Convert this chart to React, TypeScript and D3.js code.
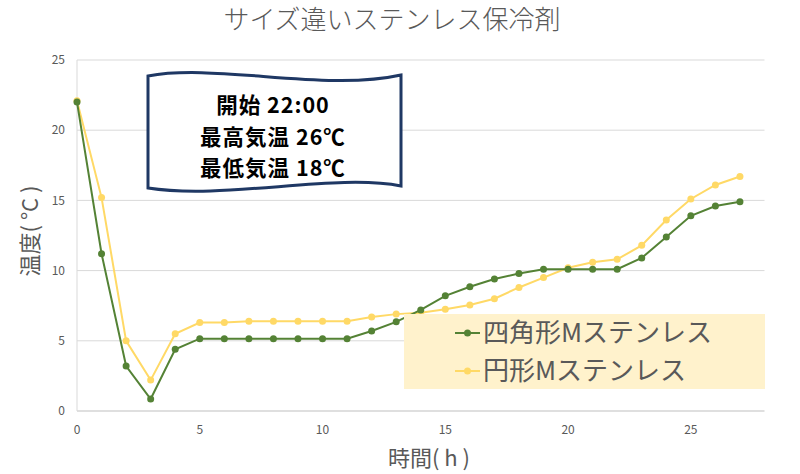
import { useEffect, useRef } from 'react'
import * as d3 from 'd3'

const hours = d3.range(0, 28)
const squareM = [22, 11.2, 3.2, 0.85, 4.4, 5.15, 5.15, 5.15, 5.15, 5.15, 5.15, 5.15, 5.7, 6.35, 7.2, 8.2, 8.85, 9.4, 9.8, 10.1, 10.1, 10.1, 10.1, 10.9, 12.4, 13.9, 14.6, 14.9]
const roundM = [22.1, 15.2, 5.0, 2.2, 5.5, 6.3, 6.3, 6.4, 6.4, 6.4, 6.4, 6.4, 6.7, 6.9, 7.0, 7.25, 7.55, 8.0, 8.8, 9.5, 10.2, 10.6, 10.8, 11.8, 13.6, 15.1, 16.1, 16.7]
const seriesNames = ['四角形Mステンレス', '円形Mステンレス']
const seriesColors = ['#548235', '#ffd966']
const xTicks = [0, 5, 10, 15, 20, 25]
const yTicks = [0, 5, 10, 15, 20, 25]
const noteLines = ['開始 22:00', '最高気温 26℃', '最低気温 18℃']

const width = 800
const height = 474
const font = '"Noto Sans CJK JP", "Noto Sans", sans-serif'
const gray = '#595959'

export default function App() {
  const svgRef = useRef<SVGSVGElement>(null)

  useEffect(() => {
    if (!svgRef.current) return
    const svg = d3.select(svgRef.current)
    svg.selectAll('*').remove()

    const x = d3.scaleLinear().domain([0, 28]).range([77, 764.5])
    const y = d3.scaleLinear().domain([0, 25]).range([411, 60])

    svg.append('rect').attr('width', width).attr('height', height).attr('fill', '#fff')

    // gridlines
    svg
      .append('g')
      .selectAll('line')
      .data(yTicks.filter((t) => t > 0))
      .enter()
      .append('line')
      .attr('x1', x(0))
      .attr('x2', x(28))
      .attr('y1', (d) => y(d))
      .attr('y2', (d) => y(d))
      .attr('stroke', '#d9d9d9')
      .attr('stroke-width', 1)

    // axis lines
    svg
      .append('line')
      .attr('x1', x(0))
      .attr('x2', x(28))
      .attr('y1', y(0))
      .attr('y2', y(0))
      .attr('stroke', '#bfbfbf')
    svg
      .append('line')
      .attr('x1', x(0))
      .attr('x2', x(0))
      .attr('y1', y(0))
      .attr('y2', y(25))
      .attr('stroke', '#d9d9d9')

    // tick labels
    svg
      .append('g')
      .selectAll('text')
      .data(yTicks)
      .enter()
      .append('text')
      .attr('x', 65)
      .attr('y', (d) => y(d))
      .attr('dy', '0.35em')
      .attr('text-anchor', 'end')
      .attr('font-family', font)
      .attr('font-size', 12)
      .attr('fill', gray)
      .text((d) => d)

    svg
      .append('g')
      .selectAll('text')
      .data(xTicks)
      .enter()
      .append('text')
      .attr('x', (d) => x(d))
      .attr('y', 430)
      .attr('dy', '0.35em')
      .attr('text-anchor', 'middle')
      .attr('font-family', font)
      .attr('font-size', 12)
      .attr('fill', gray)
      .text((d) => d)

    // title & axis titles
    svg
      .append('text')
      .attr('x', 392)
      .attr('y', 29)
      .attr('text-anchor', 'middle')
      .attr('font-family', font)
      .attr('font-size', 26)
      .attr('font-weight', 300)
      .attr('fill', gray)
      .text('サイズ違いステンレス保冷剤')

    svg
      .append('text')
      .attr('x', 429)
      .attr('y', 466)
      .attr('text-anchor', 'middle')
      .attr('font-family', font)
      .attr('font-size', 22)
      .attr('fill', gray)
      .text('時間( h )')

    svg
      .append('text')
      .attr('transform', `translate(38,231) rotate(-90)`)
      .attr('text-anchor', 'middle')
      .attr('font-family', font)
      .attr('font-size', 22)
      .attr('fill', gray)
      .text('温度( °C )')

    // series (round drawn first, square on top)
    const allSeries = [squareM, roundM]
    const line = d3
      .line<number>()
      .x((_, i) => x(hours[i]))
      .y((d) => y(d))

    allSeries
      .slice()
      .reverse()
      .forEach((values, ri) => {
        const si = allSeries.length - 1 - ri
        const g = svg.append('g')
        g.append('path')
          .datum(values)
          .attr('d', line)
          .attr('fill', 'none')
          .attr('stroke', seriesColors[si])
          .attr('stroke-width', 2)
        g.selectAll('circle')
          .data(values)
          .enter()
          .append('circle')
          .attr('cx', (_, i) => x(hours[i]))
          .attr('cy', (d) => y(d))
          .attr('r', 3.5)
          .attr('fill', seriesColors[si])
      })

    // annotation flag
    const note = svg.append('g')
    note
      .append('path')
      .attr('d', 'M148,76 C215,63 325,92 401,75 L401,186 C335,173 225,200 148,188 Z')
      .attr('fill', '#fff')
      .attr('stroke', '#1f3864')
      .attr('stroke-width', 3)
    note
      .selectAll('text')
      .data(noteLines)
      .enter()
      .append('text')
      .attr('x', 273)
      .attr('y', (_, i) => 113 + i * 31.5)
      .attr('text-anchor', 'middle')
      .attr('font-family', font)
      .attr('font-size', 21.5)
      .attr('letter-spacing', 1)
      .attr('font-weight', 700)
      .attr('fill', '#000')
      .text((d) => d)

    // legend
    const legend = svg.append('g')
    legend
      .append('rect')
      .attr('x', 404)
      .attr('y', 314)
      .attr('width', 361)
      .attr('height', 75)
      .attr('fill', '#fff2cc')
    const items = legend
      .selectAll('.item')
      .data(seriesNames)
      .enter()
      .append('g')
      .attr('class', 'item')
      .attr('transform', (_, i) => `translate(0, ${333 + i * 38})`)
    items
      .append('line')
      .attr('x1', 455)
      .attr('x2', 480)
      .attr('stroke', (_, i) => seriesColors[i])
      .attr('stroke-width', 2)
    items
      .append('circle')
      .attr('cx', 467.5)
      .attr('r', 3.5)
      .attr('fill', (_, i) => seriesColors[i])
    items
      .append('text')
      .attr('x', 483)
      .attr('dy', '0.35em')
      .attr('font-family', font)
      .attr('font-size', 26)
      .attr('fill', gray)
      .text((d) => d)
  }, [])

  return (
    <svg
      ref={svgRef}
      width={width}
      height={height}
      style={{ position: 'absolute', left: 0, top: 0, display: 'block' }}
    />
  )
}
